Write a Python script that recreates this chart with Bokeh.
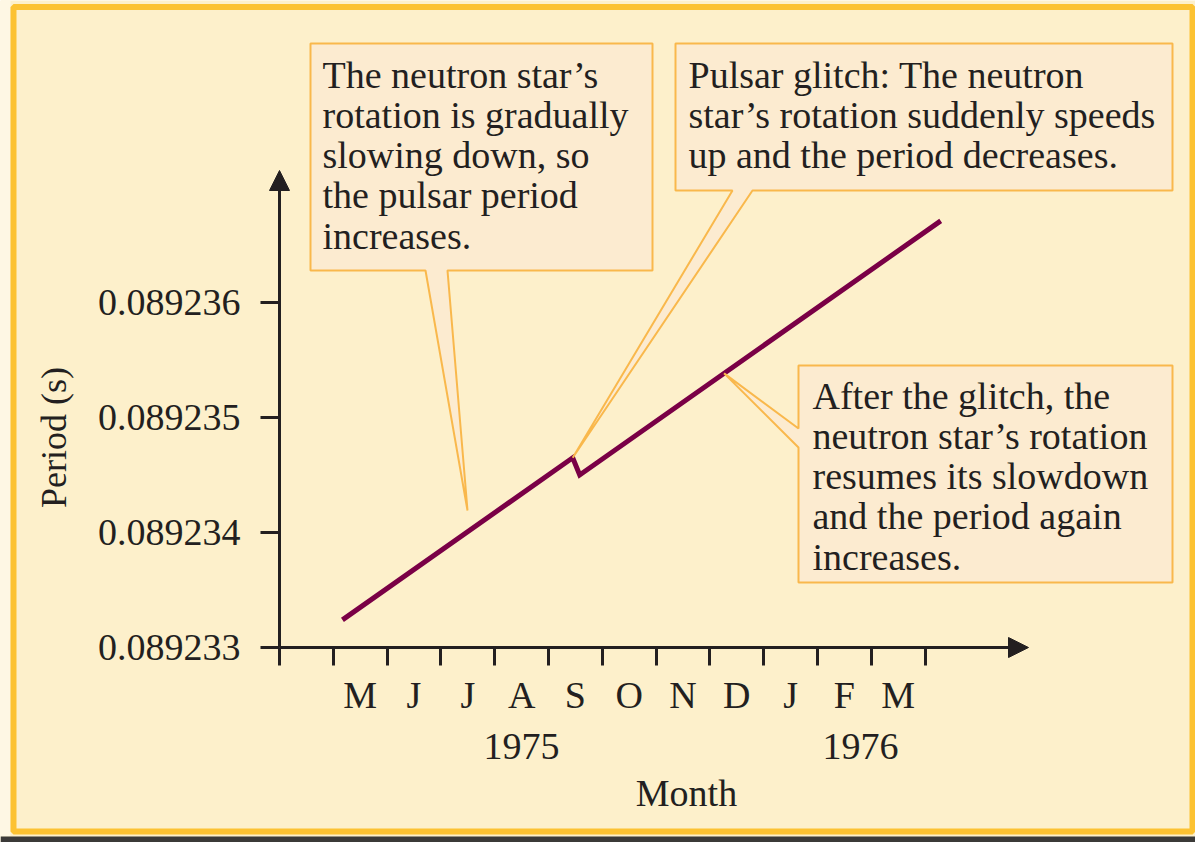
import math
from bokeh.plotting import figure
from bokeh.models import (Range1d, FixedTicker, PrintfTickFormatter, LinearAxis, Arrow,
                          NormalHead, PolyAnnotation, BoxAnnotation, Label)
from bokeh.embed import file_html
from bokeh.resources import INLINE

# ---------------- data ----------------
month_edges = [0, 1, 2, 3, 4, 5, 6, 7, 8, 9, 10, 11, 12]
month_centres = [1.5, 2.5, 3.5, 4.5, 5.5, 6.5, 7.5, 8.5, 9.5, 10.5, 11.5]
month_labels = ["M", "J", "J", "A", "S", "O", "N", "D", "J", "F", "M"]
year_positions = [4.5, 10.8]
year_labels = ["1975", "1976"]
period_ticks = [0.089233, 0.089234, 0.089235, 0.089236]

# months since start of April 1975, pulse period (s)
time_month = [1.17, 5.45, 5.58, 12.29]
period_s = [0.08923324, 0.08923465, 0.08923450, 0.08923671]

x_title = "Month"
y_title = "Period (s)"
note_slowing = "The neutron star\u2019s\nrotation is gradually\nslowing down, so\nthe pulsar period\nincreases."
note_glitch = "Pulsar glitch: The neutron\nstar\u2019s rotation suddenly speeds\nup and the period decreases."
note_after = "After the glitch, the\nneutron star\u2019s rotation\nresumes its slowdown\nand the period again\nincreases."

# ---------------- style / layout ----------------
BG = "#FDF0CB"
BOX_FILL = "#FCEBD0"
BOX_LINE = "#F9B84C"
FRAME_LINE = "#FCC232"
INK = "#231F20"
LINE_COL = "#7A0046"
FONT = "Liberation Serif"

W, H = 1195, 842
AX_X, AX_Y = 279, 647            # pixel position of the axes origin
PX_PER_MONTH = 53.8
PX_PER_UNIT = 115.0              # px per 1e-6 s
X0 = 0.0
Y0 = 0.089233


def gx(px):
    return X0 + (px - AX_X) / PX_PER_MONTH


def gy(py):
    return Y0 + (AX_Y - py) / PX_PER_UNIT * 1e-6


p = figure(width=W, height=H, x_range=Range1d(gx(0), gx(W)), y_range=Range1d(gy(H), gy(0)),
           output_backend="svg", toolbar_location=None, min_border=0,
           background_fill_color=BG, border_fill_color=BG, outline_line_color=None)
p.grid.visible = False

# ---- x axis: month boundaries as ticks, month letters between ----
xa = p.xaxis[0]
xa.fixed_location = Y0
xa.ticker = FixedTicker(ticks=month_centres, minor_ticks=month_edges)
xa.major_label_overrides = {c: l for c, l in zip(month_centres, month_labels)}
xa.axis_line_color = None
xa.major_tick_line_color = None
xa.major_tick_out = 0
xa.major_tick_in = 0
xa.minor_tick_out = 18
xa.minor_tick_in = 0
xa.minor_tick_line_width = 3
xa.minor_tick_line_color = INK
xa.major_label_text_font = FONT
xa.major_label_text_font_size = "38px"
xa.major_label_text_color = INK
xa.major_label_standoff = 8

# ---- second x axis: years ----
year_axis = LinearAxis(fixed_location=Y0,
                       ticker=FixedTicker(ticks=year_positions, minor_ticks=[]),
                       major_label_overrides={q: l for q, l in zip(year_positions, year_labels)},
                       axis_line_color=None, major_tick_line_color=None,
                       minor_tick_line_color=None, major_tick_out=0, major_tick_in=0,
                       minor_tick_out=0, minor_tick_in=0,
                       major_label_standoff=86,
                       major_label_text_font=FONT, major_label_text_font_size="38px",
                       major_label_text_color=INK)
p.add_layout(year_axis, "below")

# ---- y axis ----
ya = p.yaxis[0]
ya.fixed_location = X0
ya.ticker = FixedTicker(ticks=period_ticks, minor_ticks=[])
ya.formatter = PrintfTickFormatter(format="%.6f")
ya.axis_line_color = None
ya.major_tick_out = 19
ya.major_tick_in = 0
ya.major_tick_line_width = 3
ya.major_tick_line_color = INK
ya.minor_tick_line_color = None
ya.minor_tick_out = 0
ya.major_label_standoff = 20
ya.major_label_text_font = FONT
ya.major_label_text_font_size = "38px"
ya.major_label_text_color = INK

# axis titles
p.add_layout(Label(x=gx(686), y=gy(792), text=x_title, text_font=FONT, text_font_size="38px",
                   text_color=INK, text_align="center", text_baseline="middle"))
p.add_layout(Label(x=gx(53), y=gy(437), text=y_title, text_font=FONT, text_font_size="36px",
                   text_color=INK, text_align="center", text_baseline="middle",
                   angle=90, angle_units="deg"))

# ---- outer frame and bottom shadow strip ----
p.add_layout(BoxAnnotation(left=gx(0), right=gx(10), top=gy(0), bottom=gy(836),
                           fill_color="#FEF7E4", fill_alpha=1.0, line_color=None,
                           level="underlay"))
p.add_layout(BoxAnnotation(left=gx(13), right=gx(1192), top=gy(6.5), bottom=gy(831),
                           fill_color=None, line_color=FRAME_LINE, line_width=6,
                           line_alpha=1.0, level="underlay"))
p.add_layout(BoxAnnotation(left=gx(0), right=gx(W), top=gy(836), bottom=gy(H),
                           fill_color="#3B3A38", fill_alpha=1.0, line_color=None,
                           level="underlay"))

# ---- axis arrows ----
for xe, ye in ((gx(1028), Y0), (X0, gy(170))):
    p.add_layout(Arrow(end=NormalHead(size=20, fill_color=INK, fill_alpha=1.0,
                                      line_color=INK, line_width=1),
                       x_start=X0, y_start=Y0, x_end=xe, y_end=ye,
                       line_width=3, line_color=INK))

# ---- data line ----
p.line(time_month, period_s, line_width=5, line_color=LINE_COL, line_join="miter")


# ---- callouts ----
def callout(pts):
    return PolyAnnotation(xs=[q[0] for q in pts], ys=[q[1] for q in pts],
                          fill_color=BOX_FILL, fill_alpha=1.0,
                          line_color=BOX_LINE, line_alpha=1.0, line_width=2)


glitch_tip = (time_month[1], period_s[1])
t_after = 0.4
after_tip = (time_month[2] + t_after * (time_month[3] - time_month[2]),
             period_s[2] + t_after * (period_s[3] - period_s[2]))

box1 = [(gx(310), gy(43)), (gx(652), gy(43)), (gx(652), gy(270)), (gx(447), gy(270)),
        (gx(467), gy(510)), (gx(425), gy(270)), (gx(310), gy(270))]
box2 = [(gx(675), gy(43)), (gx(1172), gy(43)), (gx(1172), gy(190)), (gx(752), gy(190)),
        glitch_tip, (gx(732), gy(190)), (gx(675), gy(190))]
box3 = [(gx(798), gy(365)), (gx(1172), gy(365)), (gx(1172), gy(582)), (gx(798), gy(582)),
        (gx(798), gy(447)), after_tip, (gx(798), gy(428))]
for b in (box1, box2, box3):
    p.add_layout(callout(b))


def note(px, py, text):
    return Label(x=gx(px), y=gy(py), text=text, text_font=FONT, text_font_size="38px",
                 text_color=INK, text_baseline="top", text_align="left",
                 text_line_height=0.96)


p.add_layout(note(322, 53, note_slowing))
p.add_layout(note(688, 53, note_glitch))
p.add_layout(note(812, 374, note_after))

open("out.html", "w").write(file_html(p, INLINE))
